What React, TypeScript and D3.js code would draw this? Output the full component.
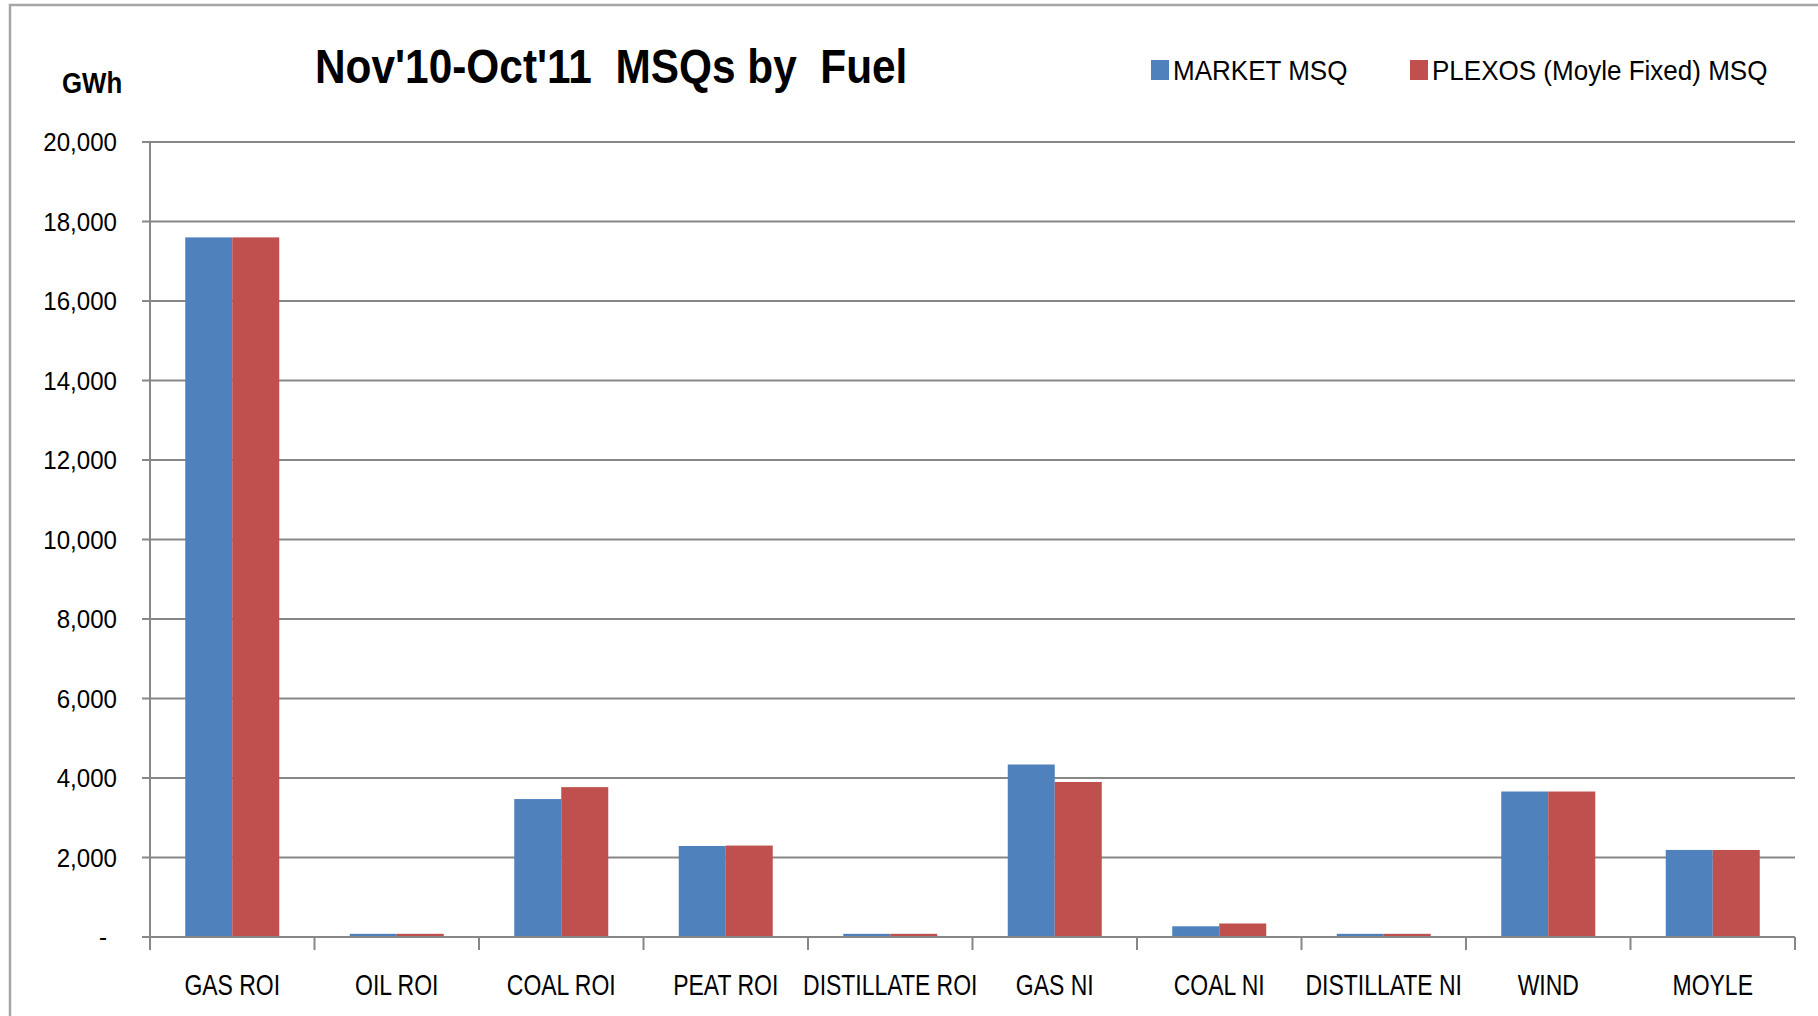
import React from 'react';
import * as d3 from 'd3';

const categories = ['GAS ROI', 'OIL ROI', 'COAL ROI', 'PEAT ROI', 'DISTILLATE ROI', 'GAS NI', 'COAL NI', 'DISTILLATE NI', 'WIND', 'MOYLE'];
const seriesNames = ['MARKET MSQ', 'PLEXOS (Moyle Fixed) MSQ'];
const marketMsq = [17600, 80, 3470, 2290, 80, 4340, 270, 80, 3660, 2190];
const plexosMsq = [17600, 80, 3770, 2300, 80, 3900, 340, 80, 3660, 2190];
const yTicks = [0, 2000, 4000, 6000, 8000, 10000, 12000, 14000, 16000, 18000, 20000];

const colors = ['#4F81BD', '#C0504D'];
const gridColor = '#878787';
const font = '"Liberation Sans", Arial, sans-serif';

const W = 1818;
const H = 1016;
const margin = { left: 150, right: 23, top: 142, bottom: 79 };

const App = () => {
    const x = d3.scaleBand<string>()
        .domain(categories)
        .range([margin.left, W - margin.right])
        .padding(0);

    const xInner = d3.scaleBand<number>()
        .domain([0, 1])
        .range([0, x.bandwidth()])
        .paddingInner(0)
        .paddingOuter(0.75);

    const y = d3.scaleLinear()
        .domain([0, 20000])
        .range([H - margin.bottom, margin.top]);

    const fmt = d3.format(',');
    const y0 = y(0);
    const series = [marketMsq, plexosMsq];
    // tick marks sit on the band boundaries, like Excel's category axis
    const boundaries = categories.map(c => x(c) as number).concat([W - margin.right]);
    const legendX = [1151, 1410];

    return (
        <svg width={W} height={H} style={{ position: 'absolute', left: 0, top: 0, background: '#fff' }}>
            <rect x={10} y={5} width={W + 20} height={H + 20} fill="#fff" stroke="#a6a6a6" strokeWidth={2.5} />

            {/* gridlines + y ticks */}
            {yTicks.map(t => (
                <g key={t}>
                    <line x1={margin.left - 8} x2={W - margin.right} y1={y(t)} y2={y(t)} stroke={gridColor} strokeWidth={2} />
                    <text
                        transform={`translate(${t === 0 ? 107 : 117},${y(t) + 9}) scale(0.91,1)`}
                        textAnchor="end" fontFamily={font} fontSize={26.5} fill="#000">
                        {t === 0 ? '-' : fmt(t)}
                    </text>
                </g>
            ))}

            {/* bars */}
            {categories.map((c, i) => (
                <g key={c} transform={`translate(${x(c)},0)`}>
                    {series.map((s, j) => (
                        <rect key={j}
                            x={xInner(j)}
                            y={y(s[i])}
                            width={xInner.bandwidth()}
                            height={y0 - y(s[i])}
                            fill={colors[j]} />
                    ))}
                </g>
            ))}

            {/* axes */}
            <line x1={margin.left} x2={margin.left} y1={margin.top} y2={y0 + 13} stroke={gridColor} strokeWidth={2} />
            <line x1={margin.left} x2={W - margin.right} y1={y0} y2={y0} stroke={gridColor} strokeWidth={2} />
            {boundaries.map((b, i) => (
                <line key={i} x1={b} x2={b} y1={y0} y2={y0 + 13} stroke={gridColor} strokeWidth={2} />
            ))}

            {categories.map(c => (
                <text key={c}
                    transform={`translate(${(x(c) as number) + x.bandwidth() / 2},995) scale(0.82,1.04)`}
                    textAnchor="middle" fontFamily={font} fontSize={28} fill="#000">
                    {c}
                </text>
            ))}

            {/* title + unit */}
            <text transform="translate(315,83) scale(0.865,1)" fontFamily={font} fontSize={49} fontWeight="bold" fill="#000">
                {"Nov'10-Oct'11\u00a0\u00a0MSQs by\u00a0\u00a0Fuel"}
            </text>
            <text transform="translate(62,93) scale(0.89,1)" fontFamily={font} fontSize={29} fontWeight="bold" fill="#000">GWh</text>

            {/* legend */}
            {seriesNames.map((n, j) => (
                <g key={n}>
                    <rect x={legendX[j]} y={60} width={18} height={20} fill={colors[j]} />
                    <text transform={`translate(${legendX[j] + 22},80) scale(0.93,1)`} fontFamily={font} fontSize={28} fill="#000">{n}</text>
                </g>
            ))}
        </svg>
    );
};

export default App;
